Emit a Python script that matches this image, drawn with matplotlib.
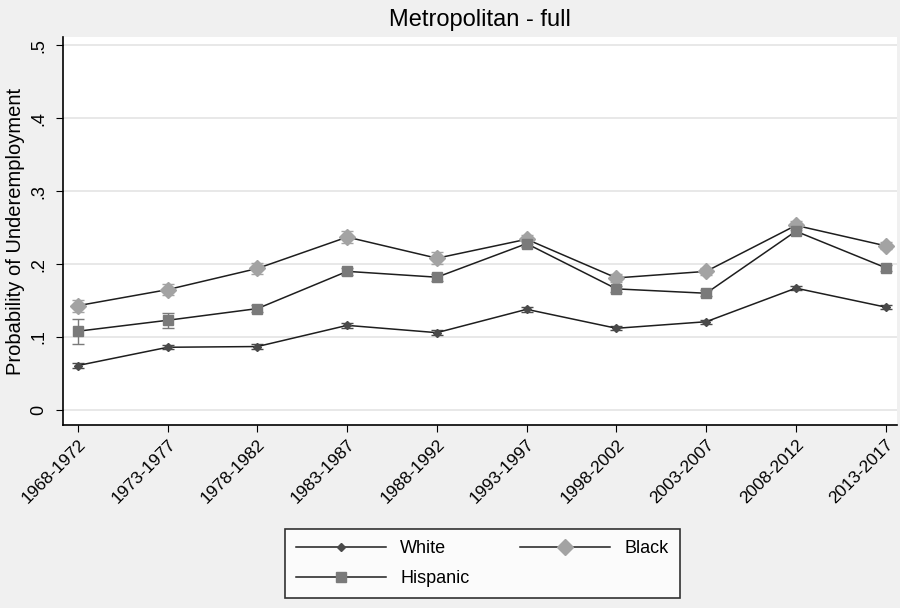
import matplotlib.pyplot as plt
from matplotlib.lines import Line2D
import numpy as np

plt.rcParams['font.family'] = ['Liberation Sans', 'DejaVu Sans']

periods = ['1968-1972', '1973-1977', '1978-1982', '1983-1987', '1988-1992',
           '1993-1997', '1998-2002', '2003-2007', '2008-2012', '2013-2017']

white = [0.061, 0.086, 0.087, 0.116, 0.106, 0.138, 0.112, 0.121, 0.167, 0.141]
black = [0.143, 0.165, 0.194, 0.237, 0.208, 0.234, 0.181, 0.190, 0.253, 0.225]
hispanic = [0.108, 0.123, 0.139, 0.190, 0.182, 0.228, 0.166, 0.160, 0.245, 0.195]

# confidence interval half-widths
white_ci = [0.004, 0.003, 0.003, 0.003, 0.003, 0.003, 0.003, 0.003, 0.003, 0.003]
black_ci = [0.008, 0.008, 0.008, 0.008, 0.008, 0.006, 0.005, 0.005, 0.006, 0.005]
hispanic_ci = [0.017, 0.010, 0.005, 0.005, 0.005, 0.005, 0.004, 0.004, 0.004, 0.004]

bg = '#f0f0f0'
fig = plt.figure(figsize=(9, 6.08), dpi=100, facecolor=bg)
ax = fig.add_axes([0.07, 0.301, 0.927, 0.638])
ax.set_facecolor('white')

x = np.arange(len(periods))
line_col = '#1e1e1e'
styles = {
    'White': dict(marker='D', ms=4.5, col='#4a4a4a'),
    'Black': dict(marker='D', ms=8.5, col='#a3a3a3'),
    'Hispanic': dict(marker='s', ms=7.5, col='#7a7a7a'),
}

for name, vals, ci in [('White', white, white_ci), ('Black', black, black_ci),
                       ('Hispanic', hispanic, hispanic_ci)]:
    st = styles[name]
    ax.errorbar(x, vals, yerr=ci, color=line_col, lw=1.1, marker=st['marker'], ms=st['ms'],
                mfc=st['col'], mec=st['col'], ecolor=st['col'], elinewidth=1, capsize=4,
                zorder=3)

ax.set_xlim(-0.167, 9.13)
ax.set_ylim(-0.0205, 0.511)
ax.set_yticks([0, 0.1, 0.2, 0.3, 0.4, 0.5])
ax.set_yticklabels(['0', '.1', '.2', '.3', '.4', '.5'], rotation=90, va='center', fontsize=13)
ax.set_xticks(x)
ax.set_xticklabels(periods, rotation=45, ha='right', rotation_mode='anchor', fontsize=12.5)
ax.tick_params(axis='both', direction='out', length=5, color='black')
ax.tick_params(axis='y', pad=6)
ax.grid(axis='y', color='#e4e4e4', lw=1.2)
ax.set_axisbelow(True)

for s in ['top', 'right']:
    ax.spines[s].set_visible(False)
for s in ['left', 'bottom']:
    ax.spines[s].set_color('black')
    ax.spines[s].set_linewidth(1.2)

ax.set_ylabel('Probability of Underemployment', fontsize=14.5, labelpad=4)
ax.set_title('Metropolitan - full', fontsize=17, pad=8)

def proxy(name):
    st = styles[name]
    return Line2D([], [], color=line_col, lw=1.1, marker=st['marker'], ms=st['ms'],
                  mfc=st['col'], mec=st['col'])

# column-wise fill: White, Hispanic | Black
order = ['White', 'Hispanic', 'Black']
leg = fig.legend([proxy(n) for n in order], order, ncol=2, loc='center',
                 bbox_to_anchor=(0.536, 0.073), fontsize=13, frameon=True, fancybox=False,
                 edgecolor='black', handlelength=5, columnspacing=2.8, handletextpad=0.8,
                 borderpad=0.6, labelspacing=0.7)
leg.get_frame().set_linewidth(1.2)
leg.get_frame().set_facecolor('white')

fig.savefig('out.png', dpi=100, facecolor=bg)
